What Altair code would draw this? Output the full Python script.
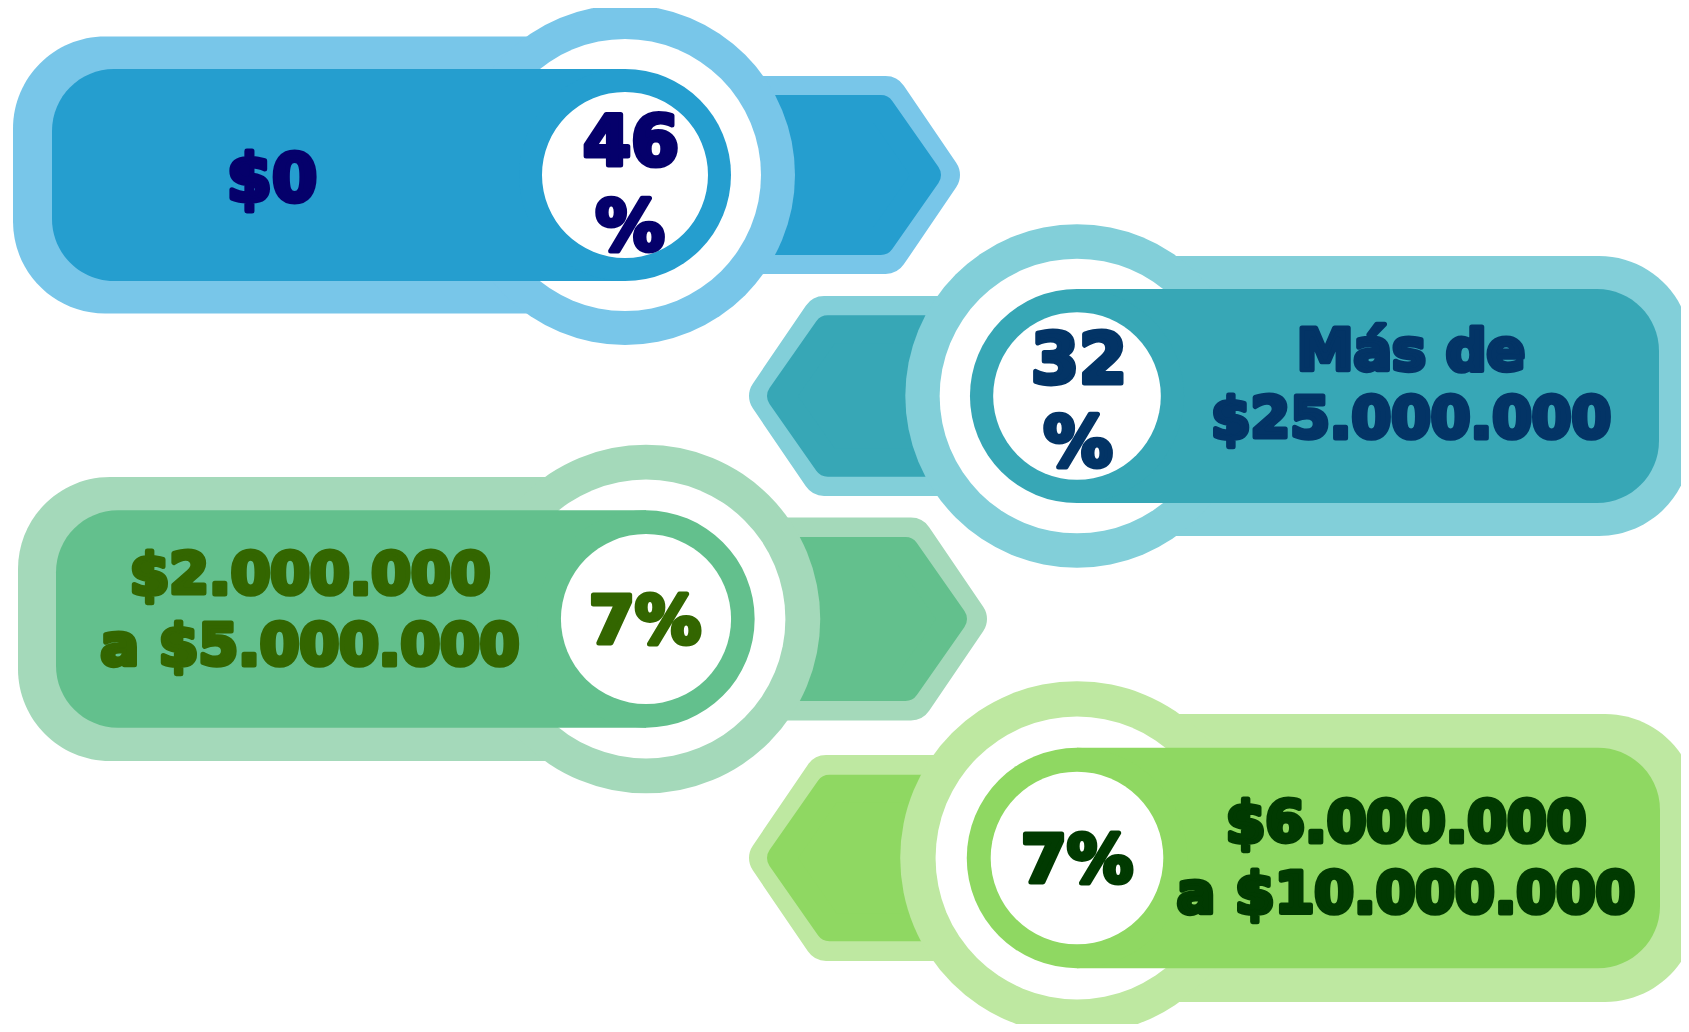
import altair as alt
import pandas as pd

# ---------------- data ----------------
ranges_line1 = ["$0", "Más de", "$2.000.000", "$6.000.000"]
ranges_line2 = ["", "$25.000.000", "a $5.000.000", "a $10.000.000"]
shares = [46, 32, 7, 7]

outer_colors = ["#78C6E9", "#82CFD9", "#A4D9BA", "#BEE8A1"]
inner_colors = ["#259ECF", "#37A7B6", "#63C08D", "#8FD862"]
text_colors = ["#05006B", "#033466", "#336600", "#013A01"]

# ---------------- layout (pixel units of the 1689x1032 canvas) ----------------
centers_x = [625, 1077, 646, 1077]
centers_y = [175, 396, 619, 858]
sides = [1, -1, 1, -1]            # +1: label pill on the left, arrow pointing right
scales = [1.0, 1.01, 1.025, 1.04]
outer_len = [612, 614, 628, 620]
inner_len = [573, 582, 590, 583]
arrow_outer_tip = [335, 328, 341, 328]
arrow_inner_tip = [316, 310, 321, 310]
label_x = [272, 1411, 310, 1406]
label_y1 = [201, 370, 594, 842]
label_y2 = [0, 438, 665, 913]
label_size = [65, 57, 57, 57]
pct_size = [69, 69, 66, 66]
pct_y1 = [165, 383, 643, 882]
pct_y2 = [250, 466, 0, 0]
pct_x = [631, 1079, 645, 1077]

W, H = 1673, 1016
X0, Y0 = 8, 8
STROKE = 5

xs = alt.Scale(domain=[X0, X0 + W], nice=False, zero=False)
ys = alt.Scale(domain=[Y0, Y0 + H], nice=False, zero=False, reverse=True)

pills_o, pills_i, circ_o, circ_w, circ_d, circ_wi, arr_o, arr_i, texts = ([] for _ in range(9))
R_O, R_I = 22, 14
for i in range(4):
    cx, cy, sd, k = centers_x[i], centers_y[i], sides[i], scales[i]
    ho, hi = 138.5 * k, 106 * k
    if sd > 0:
        pills_o.append(dict(row=i, side=sd, x=cx - outer_len[i], x2=cx, y=cy - ho, y2=cy + ho, col=outer_colors[i]))
        pills_i.append(dict(row=i, side=sd, x=cx - inner_len[i], x2=cx, y=cy - hi, y2=cy + hi, col=inner_colors[i]))
    else:
        pills_o.append(dict(row=i, side=sd, x=cx, x2=cx + outer_len[i], y=cy - ho, y2=cy + ho, col=outer_colors[i]))
        pills_i.append(dict(row=i, side=sd, x=cx, x2=cx + inner_len[i], y=cy - hi, y2=cy + hi, col=inner_colors[i]))
    # Vega circle symbols: size = (diameter)^2
    for lst, r, c in ((circ_o, 170 * k, outer_colors[i]), (circ_w, 136 * k, "#FFFFFF"),
                      (circ_d, 106 * k, inner_colors[i]), (circ_wi, 83 * k, "#FFFFFF")):
        lst.append(dict(row=i, x=cx, y=cy, area=(2 * r) ** 2, col=c))
    for lst, half, rr, tip, slope, c in ((arr_o, 99 * k, R_O, arrow_outer_tip[i], 0.68, outer_colors[i]),
                                          (arr_i, 80 * k, R_I, arrow_inner_tip[i], 0.70, inner_colors[i])):
        h = half - rr
        t = tip - rr
        s = t - slope * h
        for dx, hh in [(0, h), (s, h), (t, 0)]:
            lst.append(dict(row=i, x=cx + sd * dx, y=cy - hh, y2=cy + hh, col=c))
    # texts
    tc = text_colors[i]
    texts.append(dict(x=label_x[i], y=label_y1[i], t=ranges_line1[i], s=label_size[i], col=tc))
    if ranges_line2[i]:
        texts.append(dict(x=label_x[i], y=label_y2[i], t=ranges_line2[i], s=label_size[i], col=tc))
    if shares[i] >= 10:
        texts.append(dict(x=pct_x[i], y=pct_y1[i], t=str(shares[i]), s=pct_size[i], col=tc))
        texts.append(dict(x=pct_x[i] - 1, y=pct_y2[i], t="%", s=pct_size[i], col=tc))
    else:
        texts.append(dict(x=pct_x[i], y=pct_y1[i], t=f"{shares[i]}%", s=pct_size[i], col=tc))


def rect_layer(rows, side, radius):
    df = pd.DataFrame([r for r in rows if r["side"] == side])
    kw = dict(cornerRadiusTopLeft=radius, cornerRadiusBottomLeft=radius) if side > 0 else \
        dict(cornerRadiusTopRight=radius, cornerRadiusBottomRight=radius)
    return alt.Chart(df).mark_rect(clip=True, strokeWidth=0, **kw).encode(
        x=alt.X("x:Q", scale=xs, axis=None), x2="x2:Q",
        y=alt.Y("y:Q", scale=ys, axis=None), y2="y2:Q",
        color=alt.Color("col:N", scale=None, legend=None),
    )


def circle_layer(rows):
    return alt.Chart(pd.DataFrame(rows)).mark_circle(clip=True, opacity=1, strokeWidth=0).encode(
        x=alt.X("x:Q", scale=xs, axis=None),
        y=alt.Y("y:Q", scale=ys, axis=None),
        size=alt.Size("area:Q", scale=None, legend=None),
        color=alt.Color("col:N", scale=None, legend=None),
    )


def arrow_layer(rows, rr):
    return alt.Chart(pd.DataFrame(rows)).mark_area(
        clip=True, opacity=1, strokeWidth=2 * rr, strokeJoin="round", orient="vertical"
    ).encode(
        x=alt.X("x:Q", scale=xs, axis=None),
        y=alt.Y("y:Q", scale=ys, axis=None), y2="y2:Q",
        detail="row:N",
        color=alt.Color("col:N", scale=None, legend=None),
        stroke=alt.Stroke("col:N", scale=None, legend=None),
    )


text_layer = alt.Chart(pd.DataFrame(texts)).mark_text(
    clip=True, font="DejaVu Sans", fontWeight="bold", align="center", baseline="alphabetic",
    strokeWidth=STROKE, strokeJoin="round"
).encode(
    x=alt.X("x:Q", scale=xs, axis=None),
    y=alt.Y("y:Q", scale=ys, axis=None),
    text="t:N",
    size=alt.Size("s:Q", scale=None, legend=None),
    color=alt.Color("col:N", scale=None, legend=None),
    stroke=alt.Stroke("col:N", scale=None, legend=None),
)

chart = alt.layer(
    rect_layer(pills_o, 1, 92), rect_layer(pills_o, -1, 92),
    arrow_layer(arr_o, R_O),
    arrow_layer(arr_i, R_I),
    circle_layer(circ_o),
    circle_layer(circ_w),
    rect_layer(pills_i, 1, 62), rect_layer(pills_i, -1, 62),
    circle_layer(circ_d),
    circle_layer(circ_wi),
    text_layer,
).properties(
    width=W, height=H, padding=0, background="#FFFFFF",
    autosize=alt.AutoSizeParams(type="none"),
).configure_view(stroke=None)

chart.save("out.html", embed_options={"renderer": "svg", "actions": False})
